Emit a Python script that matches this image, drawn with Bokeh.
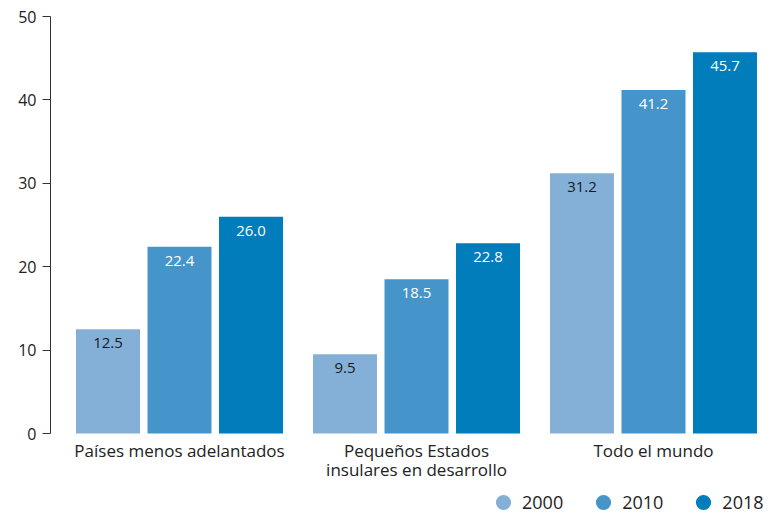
from bokeh.plotting import figure
from bokeh.models import ColumnDataSource, Range1d, Legend, LegendItem, FixedTicker
from bokeh.core.properties import value
from bokeh.embed import file_html
from bokeh.resources import INLINE

categories = ["Países menos adelantados", "Pequeños Estados\ninsulares en desarrollo", "Todo el mundo"]
years = ["2000", "2010", "2018"]
v2000 = [12.5, 9.5, 31.2]
v2010 = [22.4, 18.5, 41.2]
v2018 = [26.0, 22.8, 45.7]
series = [v2000, v2010, v2018]
colors = ["#84B0D8", "#4595CB", "#007DBA"]
label_colors = ["#1a1a1a", "#ffffff", "#ffffff"]
y_ticks = [0, 10, 20, 30, 40, 50]

FONT = "Open Sans"
TEXT = "#222222"
W, H = 769, 515

p = figure(width=W, height=H, output_backend="svg", toolbar_location=None,
           x_range=Range1d(-0.5443, 2.4895), y_range=Range1d(-9.832, 50),
           x_axis_location=None,
           min_border_left=50, min_border_right=0, min_border_top=16, min_border_bottom=0)
p.grid.visible = False
p.outline_line_color = None
p.background_fill_color = "white"

step = 0.3017
bw = 0.27
legend_items = []
nan = float("nan")
for k, (yr, vals) in enumerate(zip(years, series)):
    xs = [i + (k - 1) * step for i in range(len(categories))]
    src = ColumnDataSource(dict(x=xs, top=vals, label=[f"{v:.1f}" for v in vals]))
    p.vbar(x="x", top="top", bottom=0, width=bw, source=src,
           fill_color=colors[k], line_color=None)
    p.text(x="x", y="top", text="label", source=src, text_align="center",
           text_baseline="middle", y_offset=14, text_color=label_colors[k],
           text_font=value(FONT), text_font_size="15px")
    r = p.scatter(x=[nan], y=[nan], marker="circle", size=10,
                  fill_color=colors[k], line_color=None)
    legend_items.append(LegendItem(label=yr, renderers=[r]))

p.text(x=list(range(len(categories))), y=[0] * len(categories), text=categories,
       text_align="center", text_baseline="top", y_offset=5,
       text_color=TEXT, text_font=value(FONT), text_font_size="17px",
       text_line_height=0.85)

legend = Legend(items=legend_items, orientation="horizontal", location=(434, -6),
                glyph_width=38, glyph_height=38, padding=0, margin=0, spacing=21,
                label_standoff=0, border_line_color=None, background_fill_alpha=0,
                label_text_font=FONT, label_text_font_size="18px",
                label_text_color=TEXT, label_text_baseline="middle")
p.add_layout(legend)

ax = p.yaxis[0]
ax.ticker = FixedTicker(ticks=y_ticks)
ax.bounds = (0, 50)
ax.major_tick_out = 8
ax.major_tick_in = 0
ax.minor_tick_line_color = None
ax.major_label_standoff = 6
ax.axis_line_color = "#333333"
ax.major_tick_line_color = "#333333"
ax.major_label_text_font = FONT
ax.major_label_text_font_size = "16px"
ax.major_label_text_color = TEXT

open("out.html", "w").write(file_html(p, INLINE))
